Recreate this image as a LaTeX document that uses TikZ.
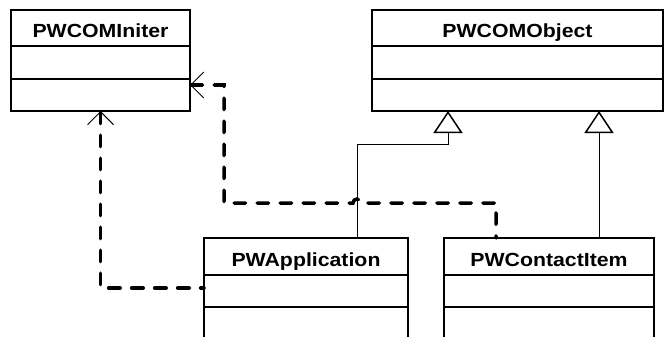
\documentclass[tikz,border=0pt]{standalone}
\usepackage{fontspec}
\setmainfont{Liberation Sans}[FakeStretch=1.12]
\usetikzlibrary{positioning,arrows.meta}

\begin{document}
\begin{tikzpicture}[x=1pt,y=-1pt]
  \clip (0,0) rectangle (664,337);
  \tikzstyle{every node}=[draw, line width=1.5pt, outer sep=0pt, inner sep=0pt]
  \tikzstyle{title}=[minimum height=36pt, text height=19pt, text depth=0pt,
    font=\fontsize{19}{22}\selectfont\bfseries]
  \tikzstyle{part}=[minimum height=33pt]
  \tikzstyle{inherit}=[line width=1pt, -{Triangle[open, length=22pt, width=29pt, line width=1.5pt]}]
  \tikzstyle{dep}=[line width=3.5pt, line cap=round, dash pattern=on 11.5pt off 11.5pt,
    {Straight Barb[length=13pt, width=26pt, line width=1pt]}-]

  % classes
  \node[title, minimum width=179pt] (initer) at (100.5,28) {PWCOMIniter};
  \node[part, minimum width=179pt, below=0pt of initer] (initerattr) {};
  \node[part, minimum width=179pt, minimum height=32pt, below=0pt of initerattr] (initerops) {};

  \node[title, minimum width=291pt] (object) at (517.5,28) {PWCOMObject};
  \node[part, minimum width=291pt, below=0pt of object] (objectattr) {};
  \node[part, minimum width=291pt, minimum height=32pt, below=0pt of objectattr] (objectops) {};

  \node[title, minimum width=204pt, minimum height=37pt] (app) at (306,256.5) {PWApplication};
  \node[part, minimum width=204pt, minimum height=32pt, below=0pt of app] (appattr) {};
  \node[part, minimum width=204pt, minimum height=40pt, below=0pt of appattr] (appops) {};

  \node[title, minimum width=210pt, minimum height=37pt] (contact) at (549,256.5) {PWContactItem};
  \node[part, minimum width=210pt, minimum height=32pt, below=0pt of contact] (contactattr) {};
  \node[part, minimum width=210pt, minimum height=40pt, below=0pt of contactattr] (contactops) {};

  % generalisation
  \draw[inherit] ([xshift=51pt]app.north) |- ([xshift=-69.5pt,yshift=-33pt]objectops.south)
    -- ([xshift=-69.5pt]objectops.south);
  \draw[inherit] ([xshift=50pt]contact.north) -- ([xshift=50pt]contact.north |- objectops.south);

  % dependencies
  \coordinate (hop) at ([xshift=51pt,yshift=35pt]app.north);
  \draw[dep] (initerops.south) |- ([yshift=3pt]appattr.west);
  \draw[dep] ([yshift=10pt]initerops.east) -- ++(34,0) |- ([xshift=-4pt]hop)
    arc[start angle=180, end angle=0, radius=4pt] -| ([xshift=-53pt]contact.north);
\end{tikzpicture}
\end{document}
